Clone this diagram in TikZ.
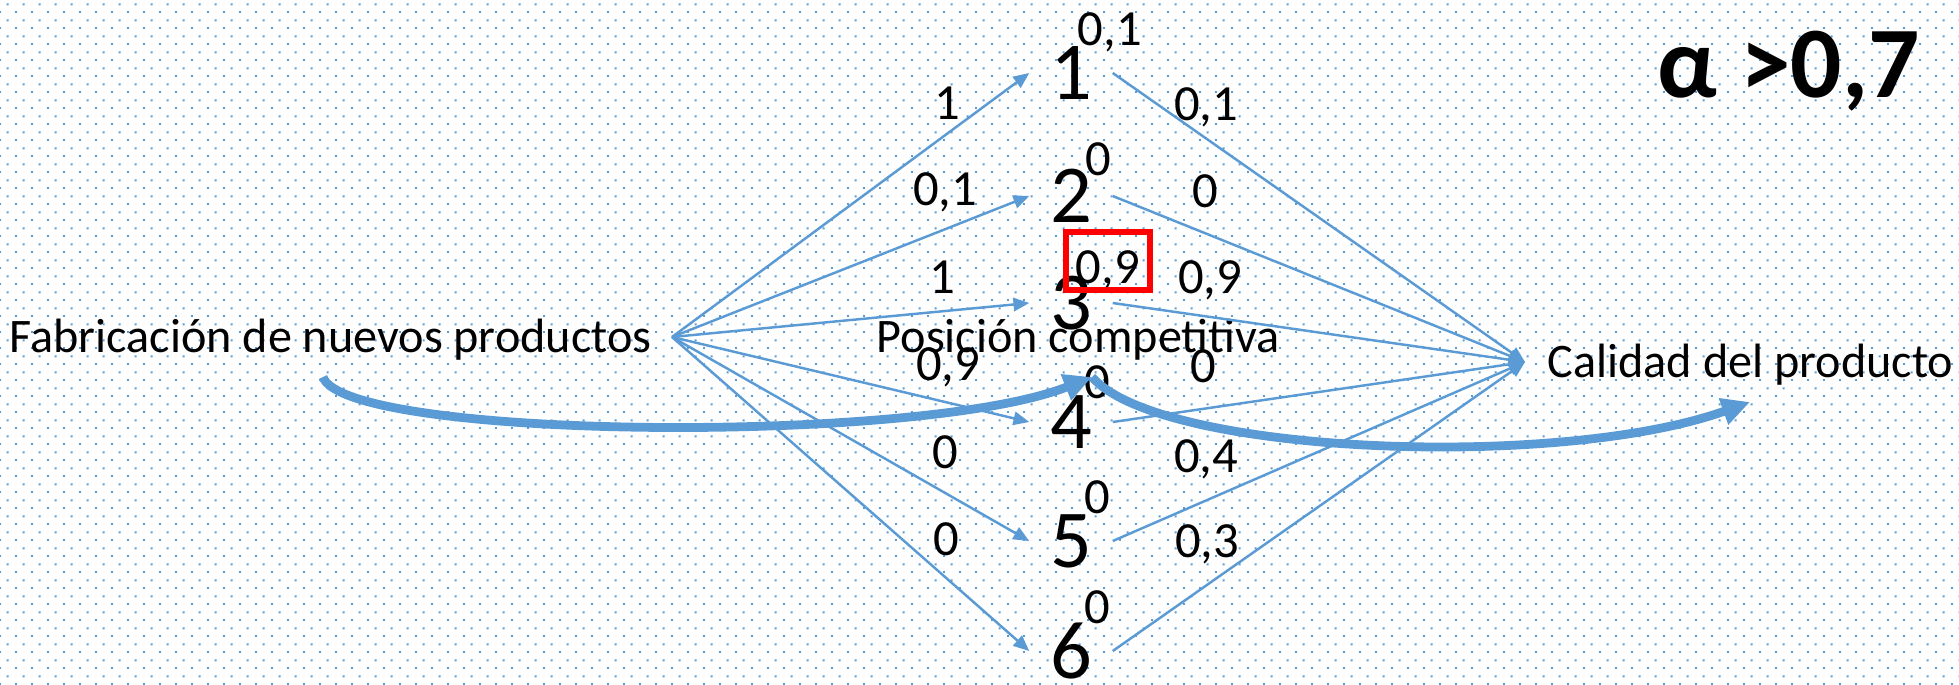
\documentclass[tikz,border=0pt]{standalone}
\usepackage{fontspec}
\setmainfont{Carlito}
\usetikzlibrary{arrows.meta}
\usetikzlibrary{patterns}
\definecolor{linkblue}{HTML}{5B9BD5}

\pgfdeclarepatternformonly{officedots}{\pgfpointorigin}{\pgfqpoint{4.5525pt}{4.5525pt}}{\pgfqpoint{4.5525pt}{4.5525pt}}{%
  \pgfpathrectangle{\pgfpointorigin}{\pgfqpoint{0.6pt}{0.6pt}}%
  \pgfpathrectangle{\pgfqpoint{2.276pt}{2.276pt}}{\pgfqpoint{0.6pt}{0.6pt}}%
  \pgfusepath{fill}}

\begin{document}
\begin{tikzpicture}[x=0.01cm,y=-0.01cm,
      every node/.style={inner sep=0mm},
      txt/.style={font=\fontsize{13.7}{16}\selectfont, anchor=base west},
      wgt/.style={font=\fontsize{14.4}{17}\selectfont, anchor=base},
      sup/.style={font=\fontsize{14.4}{17}\selectfont, anchor=base west},
      digit/.style={font=\fontsize{23.4}{28}\selectfont, minimum width=0.82cm},
      link/.style={draw=linkblue, line width=0.7pt, -{Triangle[length=4.5pt,width=3.8pt]}},
      flow/.style={draw=linkblue, line width=2.5pt, -{Triangle[length=8pt,width=7.5pt]}},
      hl/.style={draw=red, line width=1.7pt, minimum width=0.84cm, minimum height=0.58cm}]

      \useasboundingbox (0,0) rectangle (1959,684);
      \fill[white] (0,0) rectangle (1959,684);
      \fill[pattern=officedots, pattern color=linkblue] (0,0) rectangle (1959,684);

      \node[txt] (fab) at (9,352) {Fabricación de nuevos productos};
      \node[txt] (pos) at (876,352) {Posición competitiva};
      \node[txt] (cal) at (1547,377) {Calidad del producto};
      \node[anchor=base west, font=\fontsize{28.8}{34}\selectfont\bfseries] (alpha) at (1657,97) {α >0,7};

      \coordinate (src) at (672,337);
      \coordinate (dst) at (1525,362);

      \foreach \i/\y in {1/73,2/196,3/303,4/422,5/541,6/651}
        \node[digit] (n\i) at (1071,\y) {\i};

      \node[sup] (s1) at (1077,45) {0,1};
      \node[sup] (s2) at (1085,175) {0};
      \node[sup] (s3) at (1075,283) {0,9};
      \node[sup] (s4) at (1084,398) {0};
      \node[sup] (s5) at (1084,513) {0};
      \node[sup] (s6) at (1084,623) {0};
      \node[hl] (box) at (1108,261) {};

      \node[wgt] (wl1) at (947,119) {1};
      \node[wgt] (wl2) at (945,205) {0,1};
      \node[wgt] (wl3) at (942,293) {1};
      \node[wgt] (wl4) at (948,380) {0,9};
      \node[wgt] (wl5) at (945,468) {0};
      \node[wgt] (wl6) at (946,555) {0};

      \node[wgt] (wr1) at (1206,120) {0,1};
      \node[wgt] (wr2) at (1205,207) {0};
      \node[wgt] (wr3) at (1210,293) {0,9};
      \node[wgt] (wr4) at (1203,382) {0};
      \node[wgt] (wr5) at (1206,472) {0,4};
      \node[wgt] (wr6) at (1207,557) {0,3};

      \foreach \i in {1,...,6} {
        \draw[link] (src) -- (n\i.west);
        \draw[link] (n\i.east) -- (dst);
      }

      \coordinate (a0) at (323,377);
      \coordinate (a1) at (1092,377);
      \coordinate (a2) at (1750,402);
      \draw[flow] (a0) .. controls (345,440) and (920,445) .. (a1);
      \draw[flow] (a1) .. controls (1160,455) and (1560,470) .. (a2);
    \end{tikzpicture}
\end{document}
